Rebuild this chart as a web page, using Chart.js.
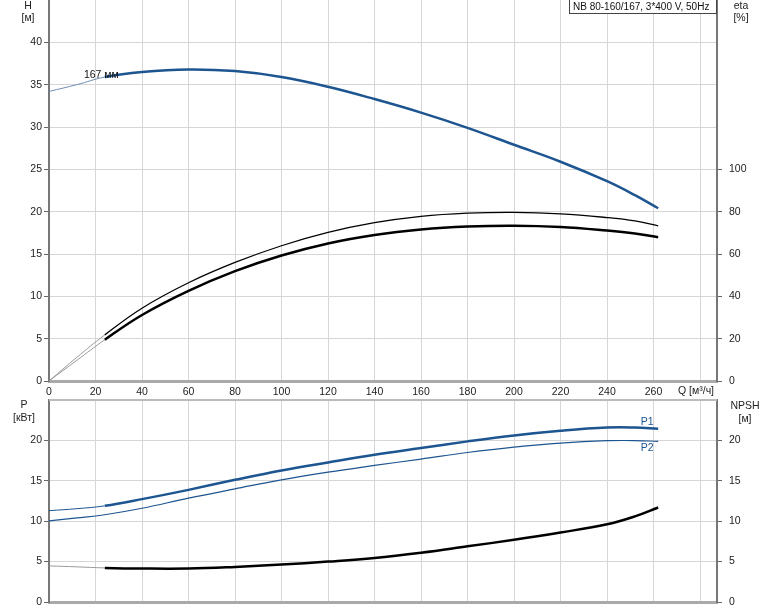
<!DOCTYPE html>
<html>
<head>
<meta charset="utf-8">
<script src="https://cdn.jsdelivr.net/npm/chart.js@4.4.1/dist/chart.umd.min.js"></script>
<style>
body { margin: 0; background: #fff; }
#wrap { position: relative; width: 774px; height: 611px; }
canvas { position: absolute; left: 0; top: 0; }
</style>
</head>
<body>
<div id="wrap">
  <canvas id="upper" width="774" height="611"></canvas>
  <canvas id="lower" width="774" height="611"></canvas>
</div>
<script>
// flow Q [m3/h] and the curves
var flow = [0, 12, 24, 40, 60, 80, 100, 120, 140, 160, 180, 200, 220, 240, 252, 262];
var head = [34.2, 35.0, 35.9, 36.5, 36.8, 36.6, 35.9, 34.75, 33.3, 31.7, 29.9, 27.9, 25.9, 23.6, 21.95, 20.4];
var etaPump = [0, 11.2, 21.8, 34.4, 46.4, 56.0, 63.9, 70.2, 74.8, 77.8, 79.3, 79.7, 79.0, 77.2, 75.6, 73.3];
var etaTotal = [0, 9.8, 19.5, 31.2, 42.6, 51.9, 59.3, 65.0, 69.0, 71.6, 73.0, 73.4, 72.8, 71.1, 69.7, 67.9];
var powerP1 = [11.3, 11.55, 11.9, 12.73, 13.88, 15.12, 16.28, 17.27, 18.22, 19.05, 19.88, 20.62, 21.2, 21.6, 21.6, 21.45];
var powerP2 = [10.05, 10.4, 10.8, 11.6, 12.85, 14.0, 15.12, 16.07, 16.9, 17.69, 18.5, 19.17, 19.67, 19.96, 19.98, 19.88];
var npsh = [4.47, 4.35, 4.22, 4.14, 4.14, 4.34, 4.63, 5.0, 5.45, 6.1, 6.89, 7.7, 8.6, 9.62, 10.6, 11.7];
var qTicks = [0, 20, 40, 60, 80, 100, 120, 140, 160, 180, 200, 220, 240, 260];
var dutyFrom = 24;   // curves are drawn bold from here on

var FONT = '"Liberation Sans", Arial, sans-serif';
var FSIZE = 10.5;
var BLUE = '#1d5591';
var GRID = '#d6d6d6';

function pts(arr) {
    return flow.map(function (q, i) { return { x: q, y: arr[i] }; });
}

// one dataset per curve; the part left of dutyFrom is drawn thin
function line(arr, color, width, thinColor, thinWidth, axis) {
    function thin(c) { return c.p0.parsed.x < dutyFrom; }
    return {
        data: pts(arr),
        borderColor: color,
        borderWidth: width,
        pointRadius: 0,
        fill: false,
        tension: 0.4,
        yAxisID: axis,
        segment: {
            borderColor: function (c) { return thin(c) ? thinColor : color; },
            borderWidth: function (c) { return thin(c) ? thinWidth : width; }
        }
    };
}

function xScale(height, labels) {
    return {
        type: 'linear', min: 0, max: 287.3, position: 'bottom',
        ticks: {
            stepSize: 20, includeBounds: false, padding: 1, maxRotation: 0, autoSkip: false,
            color: '#222', font: { family: FONT, size: FSIZE },
            callback: function (v) { return labels && qTicks.indexOf(v) >= 0 ? v : ''; }
        },
        grid: { color: GRID, tickLength: 4, tickColor: 'rgba(0,0,0,0)' },
        border: { color: '#aaaaaa', width: 3 },
        afterFit: function (s) { s.height = height; s.paddingLeft = 0; s.paddingRight = 0; }
    };
}

function yScale(pos, max, step, lastLabel, onArea) {
    return {
        type: 'linear', position: pos, min: 0, max: max,
        ticks: {
            stepSize: step, padding: pos === 'left' ? 2 : 7,
            color: '#222', font: { family: FONT, size: FSIZE },
            callback: function (v) { return v <= lastLabel ? v : null; }
        },
        grid: { color: GRID, drawOnChartArea: onArea, tickLength: 5, tickColor: '#666' },
        border: { color: '#777', width: 2 },
        afterFit: function (s) {
            s.width = pos === 'left' ? 49 : 57;
            s.paddingTop = 0; s.paddingBottom = 0;
        }
    };
}

function text(ctx, str, x, y, align, color) {
    ctx.fillStyle = color || '#222';
    ctx.textAlign = align || 'center';
    ctx.textBaseline = 'middle';
    ctx.fillText(str, x, y);
}

var upperText = {
    id: 'upperText',
    afterDraw: function (chart) {
        var ctx = chart.ctx, sx = chart.scales.x, sy = chart.scales.y;
        ctx.save();
        ctx.font = FSIZE + 'px ' + FONT;
        text(ctx, 'H', 28, 6);
        text(ctx, '[м]', 28, 18);
        text(ctx, 'eta', 741, 6);
        text(ctx, '[%]', 741, 18);
        text(ctx, 'Q [м³/ч]', 678, 391, 'left');
        text(ctx, '167 мм', sx.getPixelForValue(15), sy.getPixelForValue(36.1), 'left', '#111');
        // model box
        ctx.fillStyle = '#fff';
        ctx.fillRect(569, 0, 147, 14);
        ctx.strokeStyle = '#444';
        ctx.lineWidth = 1;
        ctx.strokeRect(569.5, -0.5, 147, 14);
        ctx.font = '10px ' + FONT;
        text(ctx, 'NB 80-160/167, 3*400 V, 50Hz', 573, 7, 'left', '#111');
        ctx.restore();
    }
};

var lowerText = {
    id: 'lowerText',
    afterDraw: function (chart) {
        var ctx = chart.ctx, a = chart.chartArea, sx = chart.scales.x, sy = chart.scales.y;
        ctx.save();
        ctx.strokeStyle = '#bbbbbb';
        ctx.lineWidth = 2;
        ctx.beginPath();
        ctx.moveTo(a.left, a.top);
        ctx.lineTo(a.right, a.top);
        ctx.stroke();
        ctx.font = FSIZE + 'px ' + FONT;
        text(ctx, 'P', 24, 405);
        text(ctx, '[кВт]', 24, 418);
        text(ctx, 'NPSH', 745, 406);
        text(ctx, '[м]', 745, 419);
        text(ctx, 'P1', sx.getPixelForValue(254.5), sy.getPixelForValue(22.3), 'left', BLUE);
        text(ctx, 'P2', sx.getPixelForValue(254.5), sy.getPixelForValue(19.0), 'left', BLUE);
        ctx.restore();
    }
};

new Chart(document.getElementById('upper'), {
    type: 'line',
    data: {
        datasets: [
            line(head, BLUE, 2.5, '#6f8fb5', 1, 'y'),
            line(etaPump, '#000', 1.3, '#9a9a9a', 1, 'y2'),
            line(etaTotal, '#000', 2.5, '#9a9a9a', 1, 'y2')
        ]
    },
    options: {
        responsive: false, animation: false, devicePixelRatio: 1,
        events: [],
        layout: { autoPadding: false, padding: { left: 0, right: 0, top: 0, bottom: 211 } },
        plugins: { legend: { display: false }, tooltip: { enabled: false } },
        scales: {
            x: xScale(19, true),
            y: yScale('left', 45, 5, 40, true),
            y2: yScale('right', 180, 20, 100, false)
        }
    },
    plugins: [upperText]
});

new Chart(document.getElementById('lower'), {
    type: 'line',
    data: {
        datasets: [
            line(powerP1, BLUE, 2.5, BLUE, 1, 'y'),
            line(powerP2, BLUE, 1.2, BLUE, 1.2, 'y'),
            line(npsh, '#000', 2.5, '#9a9a9a', 1, 'y2')
        ]
    },
    options: {
        responsive: false, animation: false, devicePixelRatio: 1,
        events: [],
        layout: { autoPadding: false, padding: { left: 0, right: 0, top: 400, bottom: 0 } },
        plugins: { legend: { display: false }, tooltip: { enabled: false } },
        scales: {
            x: xScale(9, false),
            y: yScale('left', 25, 5, 20, true),
            y2: yScale('right', 25, 5, 20, false)
        }
    },
    plugins: [lowerText]
});
</script>
</body>
</html>
